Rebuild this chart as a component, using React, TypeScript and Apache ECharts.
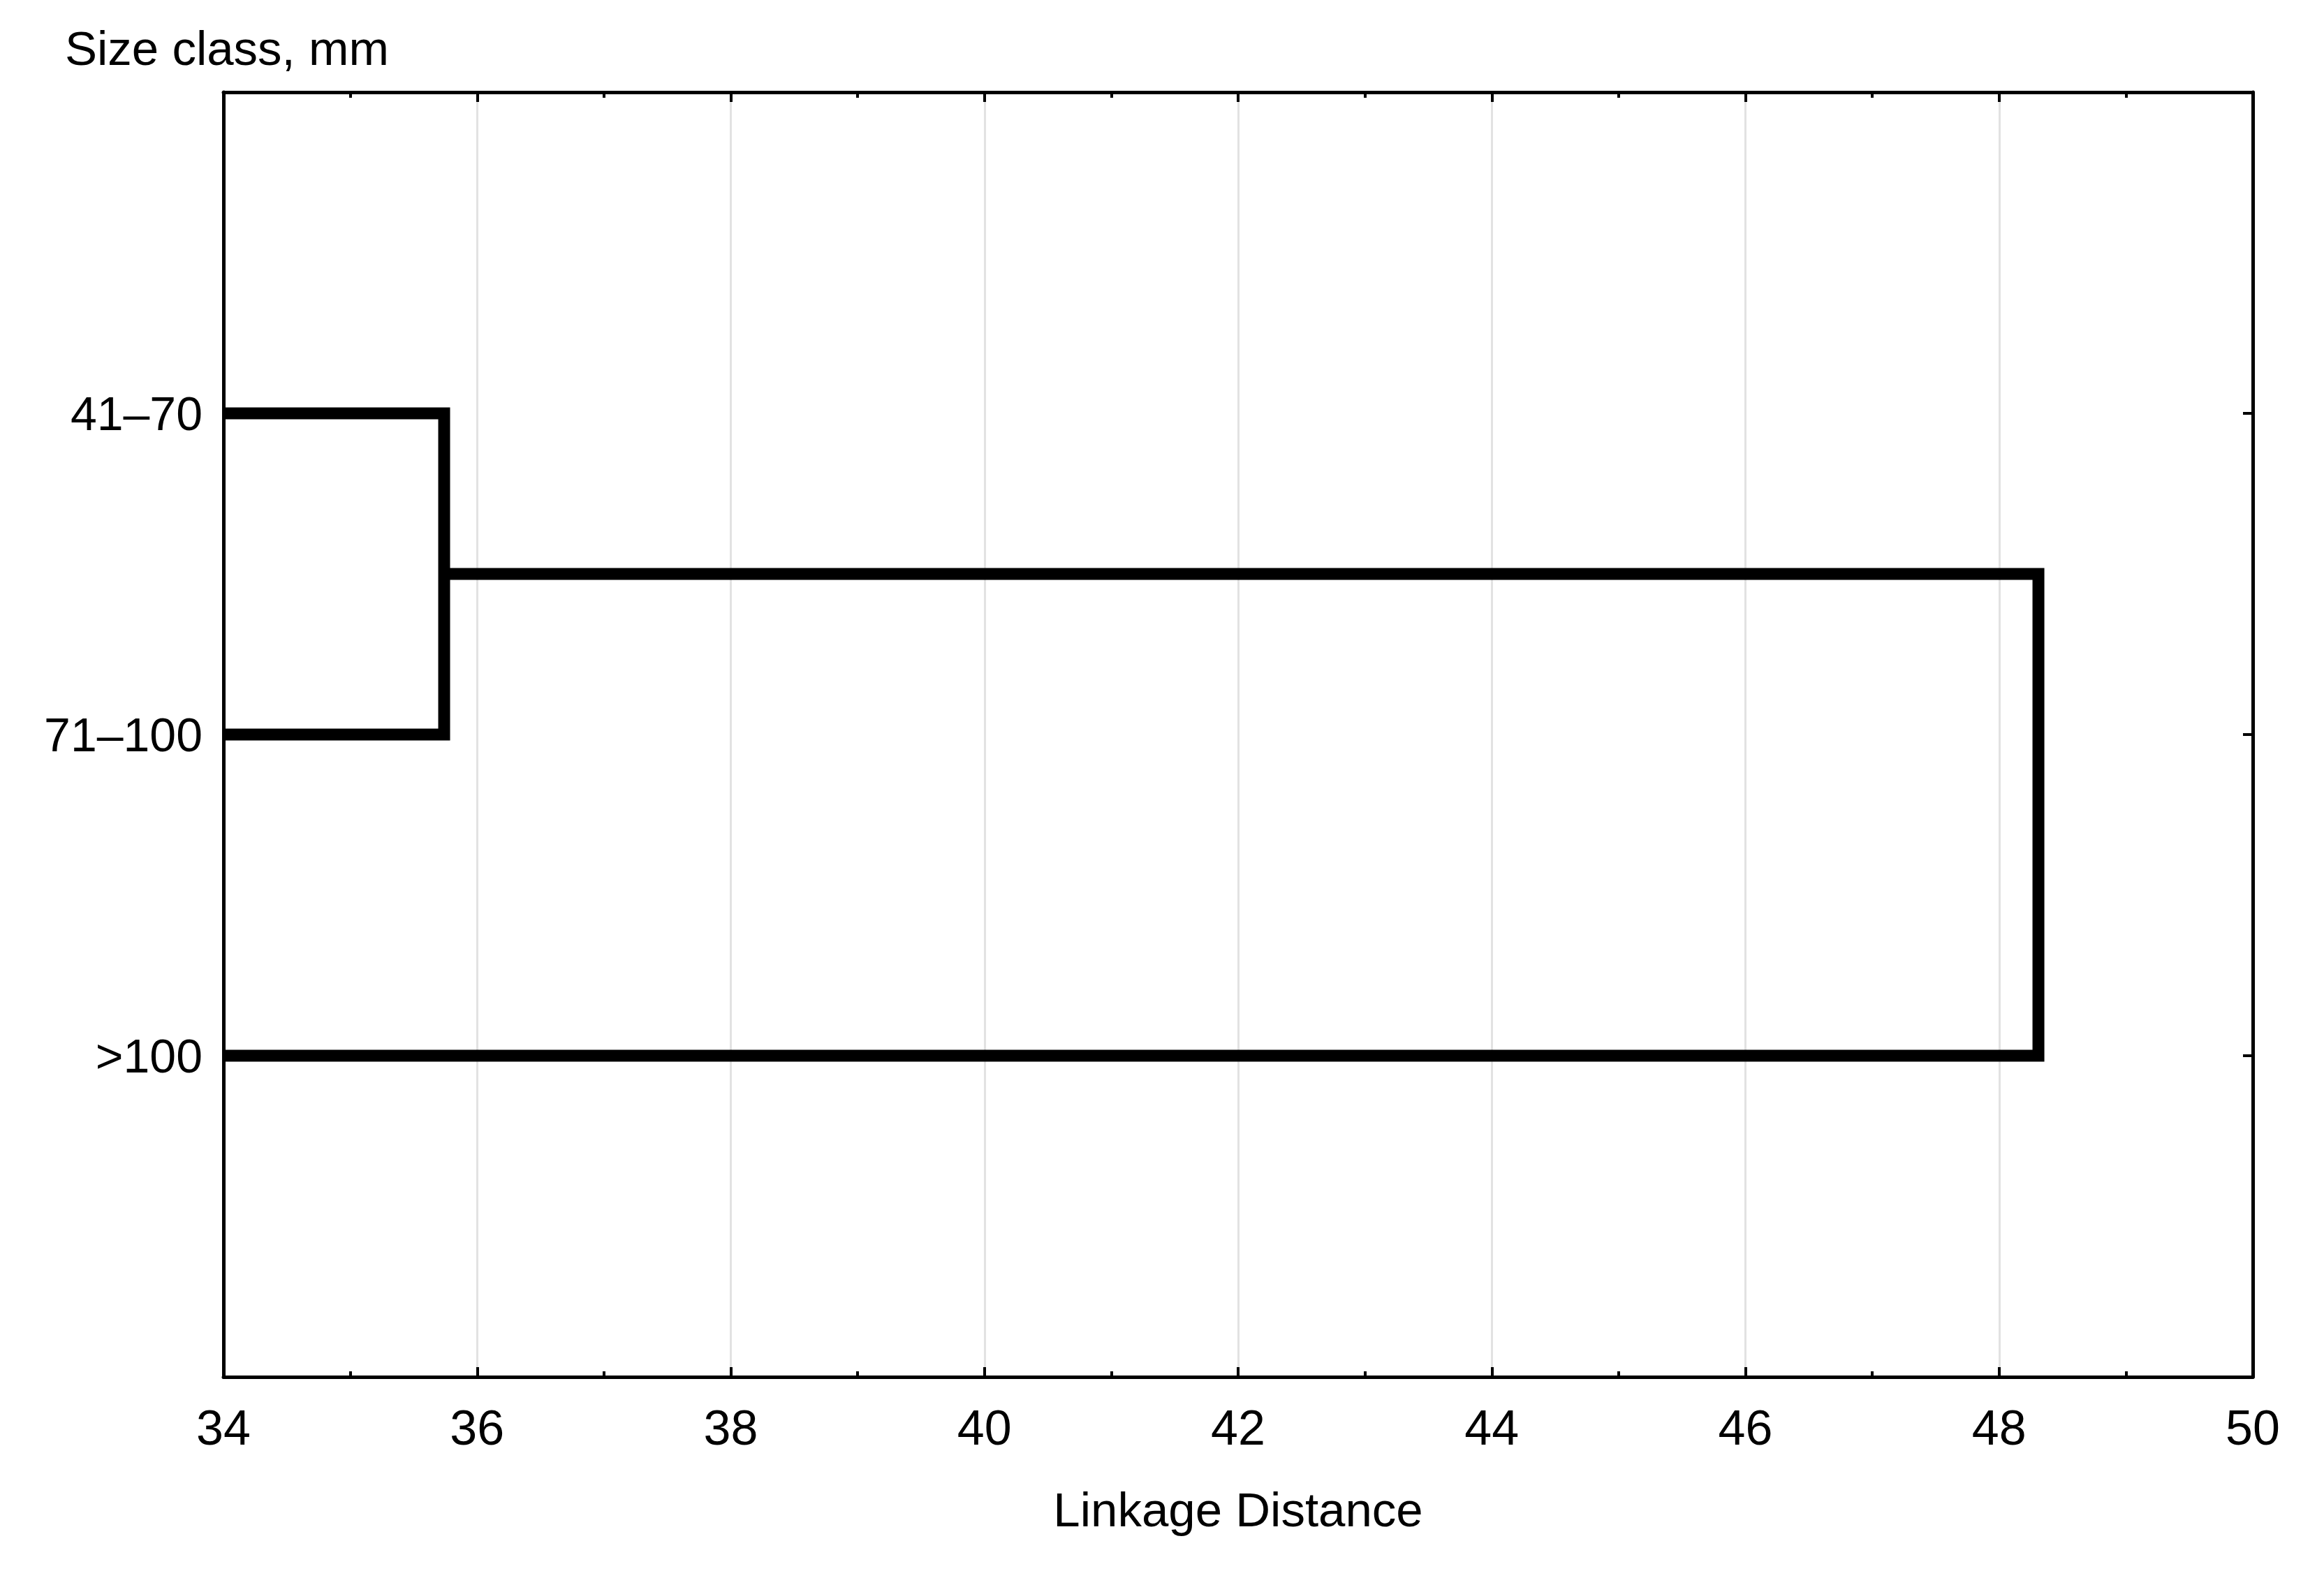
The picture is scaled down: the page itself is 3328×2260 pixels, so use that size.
import React, { useEffect, useRef } from "react";
import * as echarts from "echarts";

// Data
const categories: string[] = ["41–70", "71–100", ">100"];
// Agglomeration steps: [leftNode, rightNode, linkageDistance]
// nodes 0..2 are leaves (categories), node 3 = first cluster
const mergeLeft: number[] = [0, 3];
const mergeRight: number[] = [1, 2];
const mergeDistance: number[] = [35.74, 48.31];
const xTicks: number[] = [34, 36, 38, 40, 42, 44, 46, 48, 50];

const xMin = xTicks[0];
const xMax = xTicks[xTicks.length - 1];
const FONT = "Liberation Sans, Arial, sans-serif";

function buildSegments(): number[][][] {
  const nodes: { d: number; y: number }[] = categories.map((_, i) => ({ d: xMin, y: i + 1 }));
  const paths: number[][][] = [];
  for (let k = 0; k < mergeDistance.length; k++) {
    const a = nodes[mergeLeft[k]];
    const b = nodes[mergeRight[k]];
    const d = mergeDistance[k];
    paths.push([
      [a.d, a.y],
      [d, a.y],
      [d, b.y],
      [b.d, b.y],
    ]);
    nodes.push({ d, y: (a.y + b.y) / 2 });
  }
  return paths;
}

export default function App() {
  const ref = useRef<HTMLDivElement>(null);
  useEffect(() => {
    if (!ref.current) return;
    const chart = echarts.init(ref.current, null, { renderer: "svg" });
    const paths = buildSegments();
    const axisLine = { show: true, onZero: false, lineStyle: { color: "#000", width: 5 } };
    const xTick = { show: true, inside: true, length: 14, lineStyle: { color: "#000", width: 4 } };
    const xMinor = { show: true, splitNumber: 2, length: 8, lineStyle: { color: "#000", width: 4 } };
    const yTick = { show: true, inside: true, length: 14, lineStyle: { color: "#000", width: 4 } };
    const option: any = {
      animation: false,
      backgroundColor: "#fff",
      textStyle: { fontFamily: FONT },
      grid: { left: 320, top: 132, width: 2906, height: 1840, containLabel: false },
      graphic: [
        {
          type: "text",
          left: 93,
          top: 35,
          style: { text: "Size class, mm", font: `69px ${FONT}`, fill: "#000" },
        },
      ],
      xAxis: [
        {
          type: "value",
          position: "bottom",
          min: xMin,
          max: xMax,
          interval: 2,
          name: "Linkage Distance",
          nameLocation: "middle",
          nameGap: 156,
          nameTextStyle: { fontSize: 69, color: "#000", fontFamily: FONT },
          axisLine,
          axisTick: xTick,
          minorTick: xMinor,
          axisLabel: { fontSize: 70, color: "#000", margin: 38, fontFamily: FONT },
          splitLine: { show: true, lineStyle: { color: "#e2e2e2", width: 3 } },
        },
        {
          type: "value",
          position: "top",
          min: xMin,
          max: xMax,
          interval: 2,
          axisLine,
          axisTick: xTick,
          minorTick: xMinor,
          axisLabel: { show: false },
          splitLine: { show: false },
        },
      ],
      yAxis: [
        {
          type: "value",
          position: "left",
          min: 0,
          max: categories.length + 1,
          interval: 1,
          inverse: true,
          axisLine,
          axisTick: yTick,
          axisLabel: {
            fontSize: 68,
            color: "#000",
            margin: 30,
            fontFamily: FONT,
            formatter: (v: number) => categories[v - 1] ?? "",
          },
          splitLine: { show: false },
        },
        {
          type: "value",
          position: "right",
          min: 0,
          max: categories.length + 1,
          interval: 1,
          inverse: true,
          axisLine,
          axisTick: yTick,
          axisLabel: { show: false },
          splitLine: { show: false },
        },
      ],
      series: paths.map((p) => ({
        type: "line",
        xAxisIndex: 0,
        yAxisIndex: 0,
        data: p,
        symbol: "none",
        clip: false,
        lineStyle: { color: "#000", width: 17, cap: "butt", join: "miter" },
      })),
    };
    chart.setOption(option);
    return () => chart.dispose();
  }, []);
  return (
    <div
      ref={ref}
      style={{ position: "fixed", left: 0, top: 0, width: 3328, height: 2260, background: "#fff" }}
    />
  );
}
